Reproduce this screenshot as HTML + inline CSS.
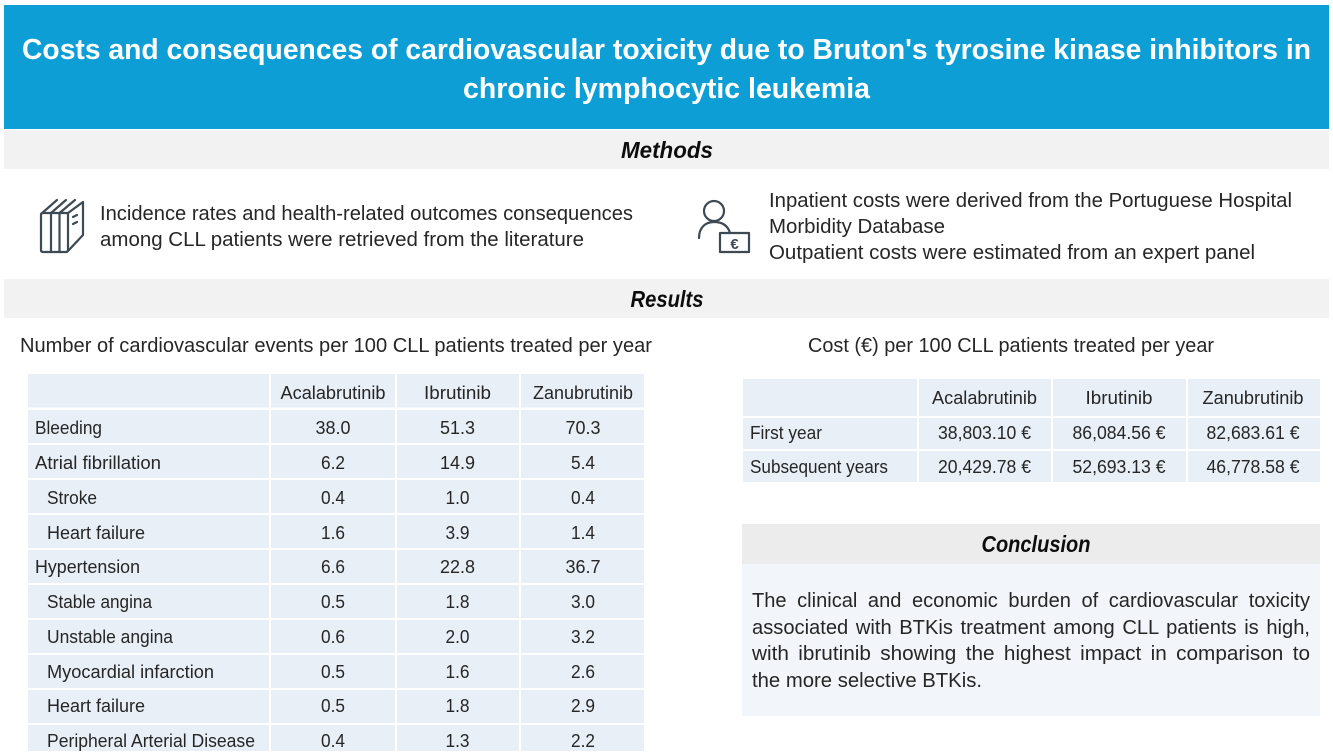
<!DOCTYPE html>
<html lang="en">
<head>
<meta charset="utf-8">
<title>Costs and consequences of cardiovascular toxicity</title>
<style>
html,body{margin:0;padding:0;background:#fff;width:1333px;height:754px;overflow:hidden}
svg{display:block}
text{font-family:"Liberation Sans",sans-serif;fill:#262626;font-size:18px}
.b{font-size:20px}
.c{text-anchor:middle}
.h{font-size:29px;font-weight:bold;fill:#fff;text-anchor:middle}
.s{font-size:23px;font-weight:bold;font-style:italic;fill:#111;text-anchor:middle}
.cell{fill:#e8eff7}
.ic{fill:none;stroke:#3d4a52;stroke-width:2.2;stroke-linejoin:round;stroke-linecap:round}
</style>
</head>
<body>
<svg width="1333" height="754" viewBox="0 0 1333 754">
<defs><filter id="soft" x="-2%" y="-2%" width="104%" height="104%"><feGaussianBlur stdDeviation="0.35"/></filter></defs>
<rect width="1333" height="754" fill="#fff"/>
<g filter="url(#soft)">
<rect x="4" y="5" width="1325" height="124" fill="#0f9ed5"/>
<text class="h" x="666.5" y="59" textLength="1289" lengthAdjust="spacingAndGlyphs">Costs and consequences of cardiovascular toxicity due to Bruton's tyrosine kinase inhibitors in</text>
<text class="h" x="666.5" y="98" textLength="407" lengthAdjust="spacingAndGlyphs">chronic lymphocytic leukemia</text>

<rect x="4" y="130" width="1325" height="39" fill="#f2f2f2"/>
<text class="s" x="667" y="158" textLength="92" lengthAdjust="spacingAndGlyphs">Methods</text>

<g class="ic">
<path d="M43 213H68V250Q68 252 66 252H43Q41 252 41 250V215Q41 213 43 213Z M51 213V252 M59.500 213V252 M41 214L57 200 M51 213L66 200 M59.500 213L75 200 M68 213L83 202V235L68 251"/>
<path d="M73 217l4-2 M73 224l4-2"/>
</g>
<text class="b" x="100" y="220" textLength="533" lengthAdjust="spacingAndGlyphs">Incidence rates and health-related outcomes consequences</text>
<text class="b" x="100" y="246" textLength="484" lengthAdjust="spacingAndGlyphs">among CLL patients were retrieved from the literature</text>

<g>
<circle class="ic" cx="714" cy="211" r="10"/>
<path class="ic" d="M699 238C699 228 705 222 714 222C723 222 728 226 730 233"/>
<rect class="ic" x="720" y="233" width="29" height="19"/>
<text x="734.500" y="249" style="font-size:15px;font-weight:bold;fill:#3d4a52" text-anchor="middle">€</text>
</g>
<text class="b" x="769" y="207" textLength="523" lengthAdjust="spacingAndGlyphs">Inpatient costs were derived from the Portuguese Hospital</text>
<text class="b" x="769" y="233" textLength="176" lengthAdjust="spacingAndGlyphs">Morbidity Database</text>
<text class="b" x="769" y="259" textLength="486" lengthAdjust="spacingAndGlyphs">Outpatient costs were estimated from an expert panel</text>

<rect x="4" y="279" width="1325" height="39" fill="#f2f2f2"/>
<text class="s" x="667" y="307" textLength="73" lengthAdjust="spacingAndGlyphs">Results</text>

<text class="b" x="20" y="352" textLength="632" lengthAdjust="spacingAndGlyphs">Number of cardiovascular events per 100 CLL patients treated per year</text>
<text class="b" x="808" y="352" textLength="406" lengthAdjust="spacingAndGlyphs">Cost (€) per 100 CLL patients treated per year</text>

<!-- events table -->
<g>
<g>
<path class="cell" d="M28 374H269V407.500H28Z M271 374H395V407.500H271Z M397 374H519V407.500H397Z M521 374H644V407.500H521Z"/>
<path class="cell" d="M28 410H269V443H28Z M271 410H395V443H271Z M397 410H519V443H397Z M521 410H644V443H521Z"/>
<path class="cell" d="M28 445H269V478H28Z M271 445H395V478H271Z M397 445H519V478H397Z M521 445H644V478H521Z"/>
<path class="cell" d="M28 480H269V513H28Z M271 480H395V513H271Z M397 480H519V513H397Z M521 480H644V513H521Z"/>
<path class="cell" d="M28 515H269V548H28Z M271 515H395V548H271Z M397 515H519V548H397Z M521 515H644V548H521Z"/>
<path class="cell" d="M28 550H269V583H28Z M271 550H395V583H271Z M397 550H519V583H397Z M521 550H644V583H521Z"/>
<path class="cell" d="M28 585H269V618H28Z M271 585H395V618H271Z M397 585H519V618H397Z M521 585H644V618H521Z"/>
<path class="cell" d="M28 620H269V653H28Z M271 620H395V653H271Z M397 620H519V653H397Z M521 620H644V653H521Z"/>
<path class="cell" d="M28 655H269V688H28Z M271 655H395V688H271Z M397 655H519V688H397Z M521 655H644V688H521Z"/>
<path class="cell" d="M28 690H269V723H28Z M271 690H395V723H271Z M397 690H519V723H397Z M521 690H644V723H521Z"/>
<path class="cell" d="M28 725H269V751H28Z M271 725H395V751H271Z M397 725H519V751H397Z M521 725H644V751H521Z"/>
</g>
<text class="c" x="333" y="399" textLength="105" lengthAdjust="spacingAndGlyphs">Acalabrutinib</text>
<text class="c" x="457.500" y="399" textLength="67" lengthAdjust="spacingAndGlyphs">Ibrutinib</text>
<text class="c" x="583" y="399" textLength="100" lengthAdjust="spacingAndGlyphs">Zanubrutinib</text>

<text x="35" y="434" textLength="67" lengthAdjust="spacingAndGlyphs">Bleeding</text>
<text class="c" x="333" y="434" textLength="35" lengthAdjust="spacingAndGlyphs">38.0</text>
<text class="c" x="457.500" y="434" textLength="35" lengthAdjust="spacingAndGlyphs">51.3</text>
<text class="c" x="583" y="434" textLength="35" lengthAdjust="spacingAndGlyphs">70.3</text>

<text x="35" y="469" textLength="126" lengthAdjust="spacingAndGlyphs">Atrial fibrillation</text>
<text class="c" x="333" y="469" textLength="24" lengthAdjust="spacingAndGlyphs">6.2</text>
<text class="c" x="457.500" y="469" textLength="35" lengthAdjust="spacingAndGlyphs">14.9</text>
<text class="c" x="583" y="469" textLength="24" lengthAdjust="spacingAndGlyphs">5.4</text>

<text x="47" y="504" textLength="50" lengthAdjust="spacingAndGlyphs">Stroke</text>
<text class="c" x="333" y="504" textLength="24" lengthAdjust="spacingAndGlyphs">0.4</text>
<text class="c" x="457.500" y="504" textLength="24" lengthAdjust="spacingAndGlyphs">1.0</text>
<text class="c" x="583" y="504" textLength="24" lengthAdjust="spacingAndGlyphs">0.4</text>

<text x="47" y="539" textLength="98" lengthAdjust="spacingAndGlyphs">Heart failure</text>
<text class="c" x="333" y="539" textLength="24" lengthAdjust="spacingAndGlyphs">1.6</text>
<text class="c" x="457.500" y="539" textLength="24" lengthAdjust="spacingAndGlyphs">3.9</text>
<text class="c" x="583" y="539" textLength="24" lengthAdjust="spacingAndGlyphs">1.4</text>

<text x="35" y="573" textLength="105" lengthAdjust="spacingAndGlyphs">Hypertension</text>
<text class="c" x="333" y="573" textLength="24" lengthAdjust="spacingAndGlyphs">6.6</text>
<text class="c" x="457.500" y="573" textLength="35" lengthAdjust="spacingAndGlyphs">22.8</text>
<text class="c" x="583" y="573" textLength="35" lengthAdjust="spacingAndGlyphs">36.7</text>

<text x="47" y="608" textLength="105" lengthAdjust="spacingAndGlyphs">Stable angina</text>
<text class="c" x="333" y="608" textLength="24" lengthAdjust="spacingAndGlyphs">0.5</text>
<text class="c" x="457.500" y="608" textLength="24" lengthAdjust="spacingAndGlyphs">1.8</text>
<text class="c" x="583" y="608" textLength="24" lengthAdjust="spacingAndGlyphs">3.0</text>

<text x="47" y="643" textLength="126" lengthAdjust="spacingAndGlyphs">Unstable angina</text>
<text class="c" x="333" y="643" textLength="24" lengthAdjust="spacingAndGlyphs">0.6</text>
<text class="c" x="457.500" y="643" textLength="24" lengthAdjust="spacingAndGlyphs">2.0</text>
<text class="c" x="583" y="643" textLength="24" lengthAdjust="spacingAndGlyphs">3.2</text>

<text x="47" y="678" textLength="167" lengthAdjust="spacingAndGlyphs">Myocardial infarction</text>
<text class="c" x="333" y="678" textLength="24" lengthAdjust="spacingAndGlyphs">0.5</text>
<text class="c" x="457.500" y="678" textLength="24" lengthAdjust="spacingAndGlyphs">1.6</text>
<text class="c" x="583" y="678" textLength="24" lengthAdjust="spacingAndGlyphs">2.6</text>

<text x="47" y="712" textLength="98" lengthAdjust="spacingAndGlyphs">Heart failure</text>
<text class="c" x="333" y="712" textLength="24" lengthAdjust="spacingAndGlyphs">0.5</text>
<text class="c" x="457.500" y="712" textLength="24" lengthAdjust="spacingAndGlyphs">1.8</text>
<text class="c" x="583" y="712" textLength="24" lengthAdjust="spacingAndGlyphs">2.9</text>

<text x="47" y="747" textLength="208" lengthAdjust="spacingAndGlyphs">Peripheral Arterial Disease</text>
<text class="c" x="333" y="747" textLength="24" lengthAdjust="spacingAndGlyphs">0.4</text>
<text class="c" x="457.500" y="747" textLength="24" lengthAdjust="spacingAndGlyphs">1.3</text>
<text class="c" x="583" y="747" textLength="24" lengthAdjust="spacingAndGlyphs">2.2</text>
</g>

<!-- cost table -->
<g>
<path class="cell" d="M743 379H917V416H743Z M919 379H1051V416H919Z M1053 379H1186V416H1053Z M1188 379H1320V416H1188Z M743 418H917V449H743Z M919 418H1051V449H919Z M1053 418H1186V449H1053Z M1188 418H1320V449H1188Z M743 451H917V482H743Z M919 451H1051V482H919Z M1053 451H1186V482H1053Z M1188 451H1320V482H1188Z"/>
<text class="c" x="984.500" y="404" textLength="105" lengthAdjust="spacingAndGlyphs">Acalabrutinib</text>
<text class="c" x="1119" y="404" textLength="67" lengthAdjust="spacingAndGlyphs">Ibrutinib</text>
<text class="c" x="1253" y="404" textLength="101" lengthAdjust="spacingAndGlyphs">Zanubrutinib</text>
<text x="750" y="439" textLength="72" lengthAdjust="spacingAndGlyphs">First year</text>
<text class="c" x="984.500" y="439" textLength="93" lengthAdjust="spacingAndGlyphs">38,803.10 €</text>
<text class="c" x="1119" y="439" textLength="93" lengthAdjust="spacingAndGlyphs">86,084.56 €</text>
<text class="c" x="1253" y="439" textLength="93" lengthAdjust="spacingAndGlyphs">82,683.61 €</text>
<text x="750" y="473" textLength="138" lengthAdjust="spacingAndGlyphs">Subsequent years</text>
<text class="c" x="984.500" y="473" textLength="93" lengthAdjust="spacingAndGlyphs">20,429.78 €</text>
<text class="c" x="1119" y="473" textLength="93" lengthAdjust="spacingAndGlyphs">52,693.13 €</text>
<text class="c" x="1253" y="473" textLength="93" lengthAdjust="spacingAndGlyphs">46,778.58 €</text>
</g>

<!-- conclusion -->
<rect x="742" y="524" width="578" height="40" fill="#ececec"/>
<text class="s" x="1036" y="552" textLength="109" lengthAdjust="spacingAndGlyphs">Conclusion</text>
<rect x="742" y="564" width="578" height="152" fill="#f2f6fa"/>
<text class="b" x="752" y="607" textLength="558" lengthAdjust="spacingAndGlyphs" style="word-spacing:5px">The clinical and economic burden of cardiovascular toxicity</text>
<text class="b" x="752" y="634" textLength="558" lengthAdjust="spacingAndGlyphs" style="word-spacing:2px">associated with BTKis treatment among CLL patients is high,</text>
<text class="b" x="752" y="660" textLength="558" lengthAdjust="spacingAndGlyphs" style="word-spacing:3.500px">with ibrutinib showing the highest impact in comparison to</text>
<text class="b" x="752" y="687" textLength="230" lengthAdjust="spacingAndGlyphs">the more selective BTKis.</text>
</g>
</svg>
</body>
</html>
